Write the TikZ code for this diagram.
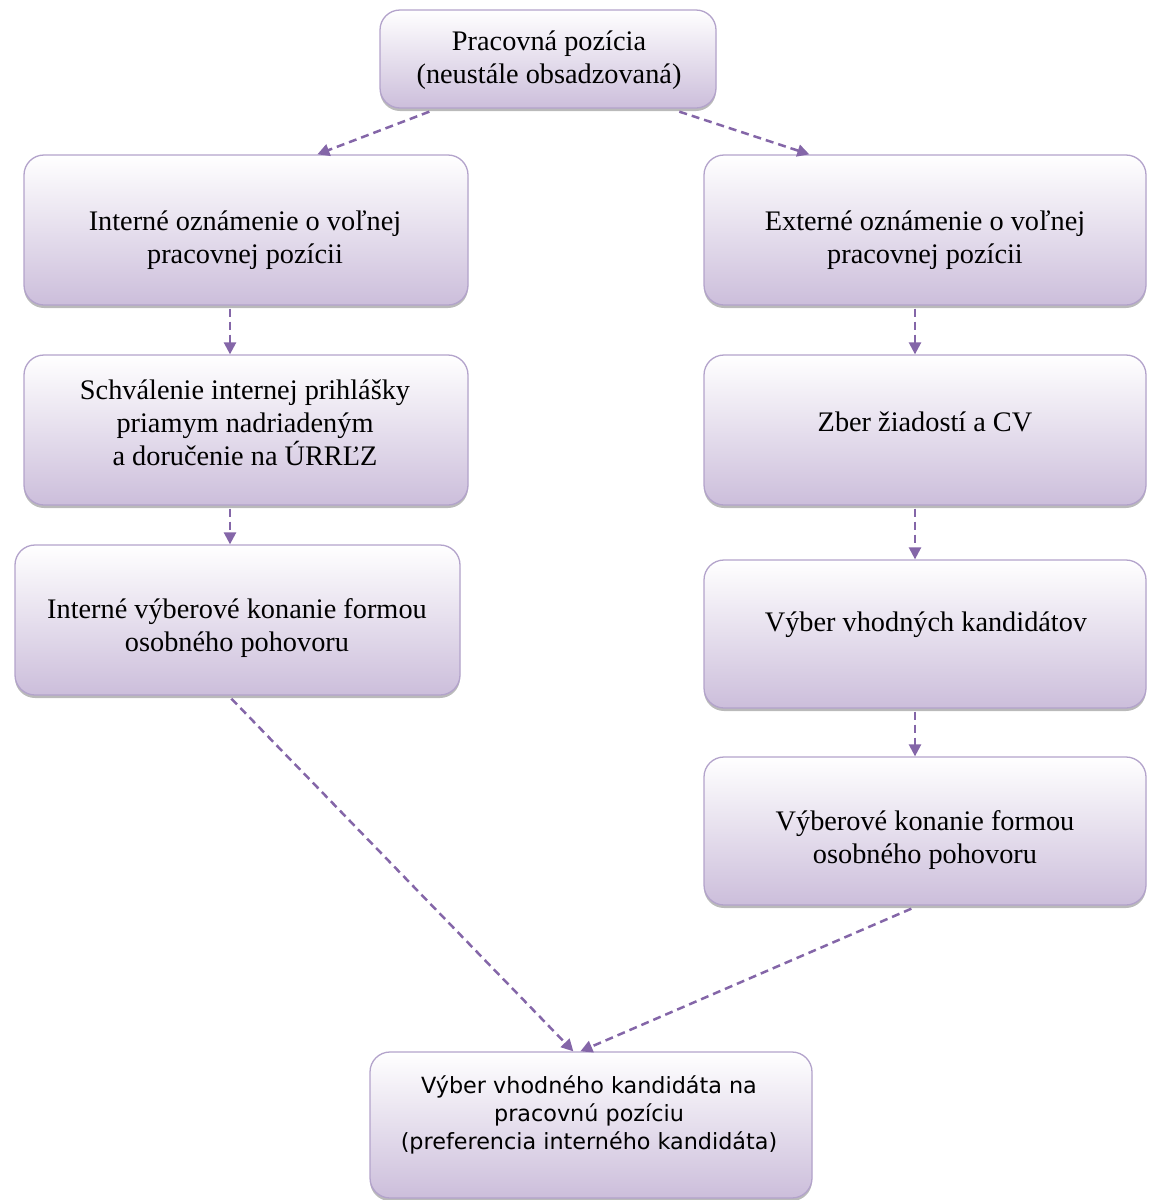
\documentclass[tikz,border=0pt]{standalone}
\usepackage{fontspec}
\setmainfont{Liberation Serif}
\newfontfamily\boxsans{DejaVu Sans}
\usetikzlibrary{shadows,arrows.meta}
\definecolor{lilac}{HTML}{CCBEDB}
\definecolor{lilacedge}{HTML}{B3A3CB}
\definecolor{flowline}{HTML}{8466A8}
\begin{document}
\begin{tikzpicture}[x=1pt,y=-1pt,
  stage/.style={draw=lilacedge, line width=1.3pt, rounded corners=20pt,
    top color=white, bottom color=lilac, inner sep=0pt,
    drop shadow={shadow xshift=0pt, shadow yshift=-3pt, opacity=0.45, fill=black!60}},
  caption/.style={align=center, inner sep=0pt, font=\fontsize{28.3}{33}\selectfont},
  sanscaption/.style={align=center, inner sep=0pt, font=\boxsans\fontsize{22.3}{28}\selectfont},
  flow/.style={draw=flowline, line width=2.5pt, dash pattern=on 8pt off 5pt,
    -{Triangle[length=12pt,width=12pt]}}]
\useasboundingbox (0,0) rectangle (1157,1200);

% boxes
\node[stage, minimum width=336, minimum height=98] (top) at (548,59) {};
\node[stage, minimum width=444, minimum height=150] (l1) at (246,230) {};
\node[stage, minimum width=442, minimum height=150] (r1) at (925,230) {};
\node[stage, minimum width=444, minimum height=150] (l2) at (246,430) {};
\node[stage, minimum width=442, minimum height=150] (r2) at (925,430) {};
\node[stage, minimum width=445, minimum height=150] (l3) at (237.5,620) {};
\node[stage, minimum width=442, minimum height=148] (r3) at (925,634) {};
\node[stage, minimum width=442, minimum height=148] (r4) at (925,831) {};
\node[stage, minimum width=442, minimum height=146] (bot) at (591,1125) {};

% texts
\node[caption] (topt) at (549,60) {Pracovná pozícia\\(neustále obsadzovaná)};
\node[caption] (l1t) at (245,240) {Interné oznámenie o voľnej\\pracovnej pozícii};
\node[caption] (r1t) at (925,240) {Externé oznámenie o voľnej\\pracovnej pozícii};
\node[caption] (l2t) at (245,423) {Schválenie internej prihlášky\\priamym nadriadeným\\a doručenie na ÚRRĽZ};
\node[caption] (r2t) at (925,422) {Zber žiadostí a CV};
\node[caption] (l3t) at (237,628) {Interné výberové konanie formou\\osobného pohovoru};
\node[caption] (r3t) at (926,625) {Výber vhodných kandidátov};
\node[caption] (r4t) at (925,840) {Výberové konanie formou\\osobného pohovoru};
\node[sanscaption] (bott) at (589,1115) {Výber vhodného kandidáta na\\pracovnú pozíciu\\(preferencia interného kandidáta)};

% connectors
\draw[flow] ([xshift=50pt,yshift=-3pt]top.south west) -- ([xshift=294pt]l1.north west);
\draw[flow] ([xshift=300pt,yshift=-3pt]top.south west) -- ([xshift=106pt]r1.north west);
\draw[flow] ([xshift=-16pt,yshift=-3pt]l1.south) -- ([xshift=-16pt]l2.north);
\draw[flow] ([xshift=-16pt,yshift=-3pt]l2.south) -- ([xshift=-7.5pt]l3.north);
\draw[flow] ([xshift=-10pt,yshift=-3pt]r1.south) -- ([xshift=-10pt]r2.north);
\draw[flow] ([xshift=-10pt,yshift=-3pt]r2.south) -- ([xshift=-10pt]r3.north);
\draw[flow] ([xshift=-10pt,yshift=-3pt]r3.south) -- ([xshift=-10pt]r4.north);
\draw[flow] ([xshift=217pt,yshift=-3pt]l3.south west) -- ([xshift=204pt]bot.north west);
\draw[flow] ([xshift=208pt,yshift=-3pt]r4.south west) -- ([xshift=211pt]bot.north west);
\end{tikzpicture}
\end{document}
